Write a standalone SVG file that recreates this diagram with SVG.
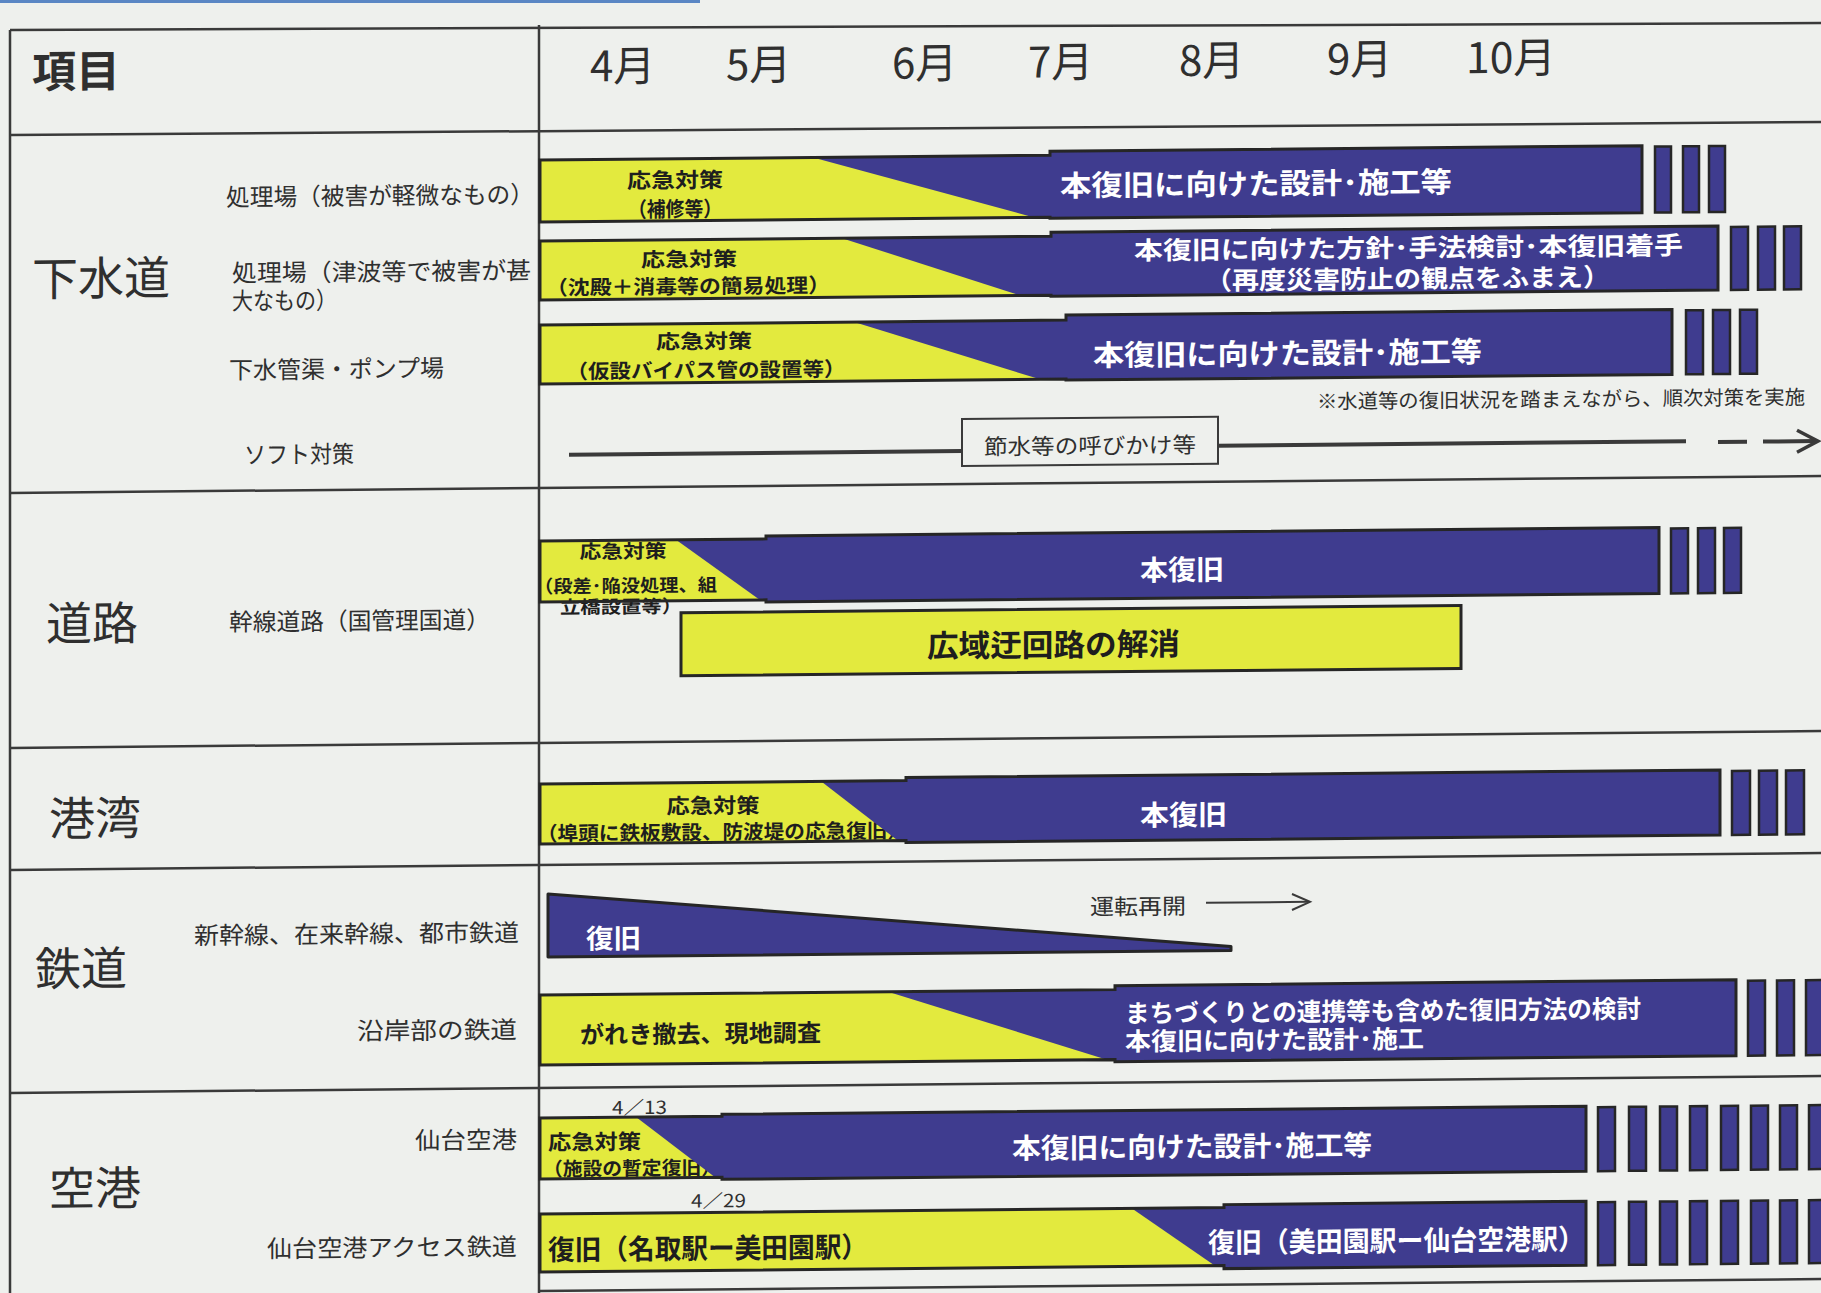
<svg xmlns="http://www.w3.org/2000/svg" width="1821" height="1293" viewBox="0 0 1821 1293">
<style>
.t{font-family:"Noto Sans CJK JP","Noto Sans CJK SC",sans-serif;fill:#2f2f2f}
.big{font-size:46px}
.lbl{font-size:24px}
.hd{font-size:42px}
.wt{fill:#ffffff;font-weight:700}
.dk{fill:#1e1e1e;font-weight:700}
.y{fill:#e3ea3e}
.b{fill:#3f3c8f}
.ol{fill:none;stroke:#262626;stroke-width:3}
.tk{fill:#3f3c8f;stroke:#262626;stroke-width:2.5}
.grid{stroke:#3a3a3a;stroke-width:2.5;fill:none}
.ln{stroke:#3a3a3a;fill:none}
</style>
<rect x="0" y="0" width="1821" height="1293" fill="#eef0ed"/>
<rect x="0" y="0" width="700" height="3" fill="#5a86c4"/>
<g transform="matrix(1,-0.0093,0,1,0,0)">
<g id="table" class="grid">
<line x1="10" y1="30" x2="1821" y2="40"/>
<line x1="10" y1="30" x2="10" y2="1300"/>
<line x1="539" y1="30" x2="539" y2="1300"/>
<line x1="10" y1="135" x2="1821" y2="139"/>
<line x1="10" y1="493" x2="1821" y2="493"/>
<line x1="10" y1="748" x2="1821" y2="748"/>
<line x1="10" y1="870" x2="1821" y2="870"/>
<line x1="10" y1="1093" x2="1821" y2="1093"/>
<line x1="539" y1="1296" x2="1821" y2="1296"/>
</g>
<g id="header">
<text class="t" x="32" y="88" font-size="44" font-weight="700">項目</text>
<text class="t hd" x="590" y="87">4月</text>
<text class="t hd" x="726" y="87">5月</text>
<text class="t hd" x="892" y="87">6月</text>
<text class="t hd" x="1028" y="87">7月</text>
<text class="t hd" x="1179" y="87">8月</text>
<text class="t hd" x="1327" y="87">9月</text>
<text class="t hd" x="1466" y="87" textLength="90" lengthAdjust="spacingAndGlyphs">10月</text>
</g>
<g id="labels">
<text class="t big" x="32" y="296">下水道</text>
<text class="t lbl" x="226" y="208" textLength="308" lengthAdjust="spacingAndGlyphs">処理場（被害が軽微なもの）</text>
<text class="t lbl" x="232" y="284" textLength="299" lengthAdjust="spacingAndGlyphs">処理場（津波等で被害が甚</text>
<text class="t lbl" x="232" y="312" textLength="105" lengthAdjust="spacingAndGlyphs">大なもの）</text>
<text class="t lbl" x="229" y="381" textLength="215" lengthAdjust="spacingAndGlyphs">下水管渠・ポンプ場</text>
<text class="t lbl" x="244" y="466" textLength="110" lengthAdjust="spacingAndGlyphs">ソフト対策</text>
<text class="t big" x="46" y="641">道路</text>
<text class="t lbl" x="229" y="633" textLength="261" lengthAdjust="spacingAndGlyphs">幹線道路（国管理国道）</text>
<text class="t big" x="49" y="836">港湾</text>
<text class="t big" x="35" y="986">鉄道</text>
<text class="t lbl" x="194" y="946" textLength="325" lengthAdjust="spacingAndGlyphs">新幹線、在来幹線、都市鉄道</text>
<text class="t lbl" x="357" y="1043" textLength="160" lengthAdjust="spacingAndGlyphs">沿岸部の鉄道</text>
<text class="t big" x="49" y="1206">空港</text>
<text class="t lbl" x="415" y="1153" textLength="102" lengthAdjust="spacingAndGlyphs">仙台空港</text>
<text class="t lbl" x="267" y="1260" textLength="250" lengthAdjust="spacingAndGlyphs">仙台空港アクセス鉄道</text>
</g>
<g id="sewer-bar1">
<rect class="y" x="540" y="165" width="510" height="62"/>
<text class="t dk" x="675" y="194" font-size="21" text-anchor="middle" textLength="96" lengthAdjust="spacingAndGlyphs">応急対策</text>
<text class="t dk" x="675" y="223" font-size="21" text-anchor="middle" textLength="94" lengthAdjust="spacingAndGlyphs">（補修等）</text>
<polygon class="b" points="813,165 1050,165 1050,227 1034,227"/>
<rect class="b" x="1050" y="161" width="592" height="67"/>
<path class="ol" d="M540,165 H1050 V161 H1642 V228 H1050 V227 H540 Z"/>
<text class="t wt" x="1060" y="206" font-size="29" textLength="392" lengthAdjust="spacingAndGlyphs">本復旧に向けた設計･施工等</text>
<rect class="tk" x="1655" y="162" width="16" height="66"/>
<rect class="tk" x="1683" y="162" width="16" height="66"/>
<rect class="tk" x="1709" y="162" width="16" height="66"/>
</g>
<g id="sewer-bar2">
<rect class="y" x="540" y="246" width="511" height="59"/>
<text class="t dk" x="689" y="273" font-size="20" text-anchor="middle" textLength="96" lengthAdjust="spacingAndGlyphs">応急対策</text>
<text class="t dk" x="688" y="300" font-size="20" text-anchor="middle" textLength="284" lengthAdjust="spacingAndGlyphs">（沈殿＋消毒等の簡易処理）</text>
<polygon class="b" points="842,246 1051,246 1051,305 1020,305"/>
<rect class="b" x="1051" y="242" width="667" height="64"/>
<path class="ol" d="M540,246 H1051 V242 H1718 V306 H1051 V305 H540 Z"/>
<text class="t wt" x="1134" y="270" font-size="25" textLength="549" lengthAdjust="spacingAndGlyphs">本復旧に向けた方針･手法検討･本復旧着手</text>
<text class="t wt" x="1205" y="301" font-size="25" textLength="405" lengthAdjust="spacingAndGlyphs">（再度災害防止の観点をふまえ）</text>
<rect class="tk" x="1731" y="243" width="17" height="63"/>
<rect class="tk" x="1758" y="243" width="17" height="63"/>
<rect class="tk" x="1784" y="243" width="17" height="63"/>
</g>
<g id="sewer-bar3">
<rect class="y" x="540" y="330" width="526" height="59"/>
<text class="t dk" x="704" y="355" font-size="20" text-anchor="middle" textLength="96" lengthAdjust="spacingAndGlyphs">応急対策</text>
<text class="t dk" x="706" y="384" font-size="20" text-anchor="middle" textLength="279" lengthAdjust="spacingAndGlyphs">（仮設バイパス管の設置等）</text>
<polygon class="b" points="854,330 1066,330 1066,389 1040,389"/>
<rect class="b" x="1066" y="325" width="606" height="65"/>
<path class="ol" d="M540,330 H1066 V325 H1672 V390 H1066 V389 H540 Z"/>
<text class="t wt" x="1093" y="376" font-size="29" textLength="389" lengthAdjust="spacingAndGlyphs">本復旧に向けた設計･施工等</text>
<rect class="tk" x="1686" y="326" width="17" height="64"/>
<rect class="tk" x="1713" y="326" width="17" height="64"/>
<rect class="tk" x="1740" y="326" width="17" height="64"/>
</g>
<g id="sewer-note">
<text class="t" x="1317" y="421" font-size="20" textLength="488" lengthAdjust="spacingAndGlyphs">※水道等の復旧状況を踏まえながら、順次対策を実施</text>
</g>
<g id="soft-box">
<rect x="962" y="428" width="256" height="47" fill="#eef0ed" stroke="#3a3a3a" stroke-width="2"/>
<text class="t" x="1090" y="464" font-size="22" text-anchor="middle" textLength="212" lengthAdjust="spacingAndGlyphs">節水等の呼びかけ等</text>
</g>
<g id="road-bar1">
<rect class="y" x="540" y="546" width="226" height="61"/>
<text class="t dk" x="623" y="564" font-size="19" text-anchor="middle" textLength="87" lengthAdjust="spacingAndGlyphs">応急対策</text>
<text class="t dk" x="534" y="598" font-size="18" textLength="183" lengthAdjust="spacingAndGlyphs">（段差･陥没処理、組</text>
<text class="t dk" x="560" y="619" font-size="18" textLength="122" lengthAdjust="spacingAndGlyphs">立橋設置等）</text>
<polygon class="b" points="676,546 766,546 766,607 760,607"/>
<rect class="b" x="766" y="543" width="893" height="66"/>
<path class="ol" d="M540,546 H766 V543 H1659 V609 H766 V607 H540 Z"/>
<text class="t wt" x="1140" y="591" font-size="28" textLength="84" lengthAdjust="spacingAndGlyphs">本復旧</text>
<rect class="tk" x="1671" y="544" width="17" height="65"/>
<rect class="tk" x="1698" y="544" width="17" height="65"/>
<rect class="tk" x="1724" y="544" width="17" height="65"/>
</g>
<g id="road-bar2">
<rect x="681" y="619" width="780" height="63" fill="#e3ea3e" stroke="#262626" stroke-width="3"/>
<text class="t dk" x="927" y="666" font-size="31" textLength="253" lengthAdjust="spacingAndGlyphs">広域迂回路の解消</text>
</g>
<g id="port-bar">
<rect class="y" x="540" y="789" width="366" height="60"/>
<text class="t dk" x="713" y="820" font-size="21" text-anchor="middle" textLength="93" lengthAdjust="spacingAndGlyphs">応急対策</text>
<text class="t dk" x="537" y="846" font-size="20" textLength="371" lengthAdjust="spacingAndGlyphs">（埠頭に鉄板敷設、防波堤の応急復旧）</text>
<polygon class="b" points="821,789 906,789 906,849 898,849"/>
<rect class="b" x="906" y="786" width="814" height="65"/>
<path class="ol" d="M540,789 H906 V786 H1720 V851 H906 V849 H540 Z"/>
<text class="t wt" x="1140" y="836" font-size="28" textLength="87" lengthAdjust="spacingAndGlyphs">本復旧</text>
<rect class="tk" x="1732" y="787" width="18" height="64"/>
<rect class="tk" x="1759" y="787" width="18" height="64"/>
<rect class="tk" x="1786" y="787" width="18" height="64"/>
</g>
<g id="rail-bar1">
<polygon points="548,899 1231,958 1231,962 548,962" fill="#3f3c8f" stroke="#262626" stroke-width="3" stroke-linejoin="round"/>
<text class="t wt" x="586" y="954" font-size="27" textLength="55" lengthAdjust="spacingAndGlyphs">復旧</text>
</g>
<g id="rail-restart">
<text class="t" x="1090" y="925" font-size="22" textLength="96" lengthAdjust="spacingAndGlyphs">運転再開</text>
</g>
<g id="rail-bar2">
<rect class="y" x="540" y="1000" width="575" height="70"/>
<text class="t dk" x="580" y="1049" font-size="24" textLength="241" lengthAdjust="spacingAndGlyphs">がれき撤去、現地調査</text>
<polygon class="b" points="888,1000 1115,1000 1115,1070 1107,1070"/>
<rect class="b" x="1115" y="996" width="621" height="76"/>
<path class="ol" d="M540,1000 H1115 V996 H1736 V1072 H1115 V1070 H540 Z"/>
<text class="t wt" x="1125" y="1033" font-size="25" textLength="516" lengthAdjust="spacingAndGlyphs">まちづくりとの連携等も含めた復旧方法の検討</text>
<text class="t wt" x="1125" y="1061" font-size="25" textLength="299" lengthAdjust="spacingAndGlyphs">本復旧に向けた設計･施工</text>
<rect class="tk" x="1748" y="997" width="17" height="75"/>
<rect class="tk" x="1777" y="997" width="17" height="75"/>
<rect class="tk" x="1806" y="997" width="17" height="75"/>
</g>
<g id="airport-bar1">
<text class="t" x="612" y="1120" font-size="18" textLength="55" lengthAdjust="spacingAndGlyphs">4／13</text>
<rect class="y" x="540" y="1123" width="182" height="61"/>
<text class="t dk" x="548" y="1155" font-size="21" textLength="93" lengthAdjust="spacingAndGlyphs">応急対策</text>
<text class="t dk" x="543" y="1181" font-size="19" textLength="178" lengthAdjust="spacingAndGlyphs">（施設の暫定復旧）</text>
<polygon class="b" points="636,1123 722,1123 722,1184 715,1184"/>
<rect class="b" x="722" y="1121" width="864" height="65"/>
<path class="ol" d="M540,1123 H722 V1121 H1586 V1186 H722 V1184 H540 Z"/>
<text class="t wt" x="1012" y="1168" font-size="28" textLength="360" lengthAdjust="spacingAndGlyphs">本復旧に向けた設計･施工等</text>
<rect class="tk" x="1598" y="1122" width="17" height="64"/>
<rect class="tk" x="1629" y="1122" width="17" height="64"/>
<rect class="tk" x="1660" y="1122" width="17" height="64"/>
<rect class="tk" x="1690" y="1122" width="17" height="64"/>
<rect class="tk" x="1721" y="1122" width="17" height="64"/>
<rect class="tk" x="1751" y="1122" width="17" height="64"/>
<rect class="tk" x="1780" y="1122" width="17" height="64"/>
<rect class="tk" x="1809" y="1122" width="17" height="64"/>
</g>
<g id="airport-bar2">
<text class="t" x="691" y="1214" font-size="18" textLength="55" lengthAdjust="spacingAndGlyphs">4／29</text>
<rect class="y" x="540" y="1219" width="684" height="58"/>
<text class="t dk" x="548" y="1265" font-size="28" textLength="320" lengthAdjust="spacingAndGlyphs">復旧（名取駅ー美田園駅）</text>
<polygon class="b" points="1132,1219 1224,1219 1224,1277 1215,1277"/>
<rect class="b" x="1224" y="1216" width="362" height="64"/>
<path class="ol" d="M540,1219 H1224 V1216 H1586 V1280 H1224 V1277 H540 Z"/>
<text class="t wt" x="1208" y="1264" font-size="28" textLength="377" lengthAdjust="spacingAndGlyphs">復旧（美田園駅ー仙台空港駅）</text>
<rect class="tk" x="1598" y="1217" width="17" height="63"/>
<rect class="tk" x="1629" y="1217" width="17" height="63"/>
<rect class="tk" x="1660" y="1217" width="17" height="63"/>
<rect class="tk" x="1690" y="1217" width="17" height="63"/>
<rect class="tk" x="1721" y="1217" width="17" height="63"/>
<rect class="tk" x="1751" y="1217" width="17" height="63"/>
<rect class="tk" x="1780" y="1217" width="17" height="63"/>
<rect class="tk" x="1809" y="1217" width="17" height="63"/>
</g>
<g id="connectors" class="ln">
<line x1="569" y1="460" x2="962" y2="460" stroke-width="4"/>
<line x1="1218" y1="457" x2="1686" y2="457" stroke-width="4"/>
<line x1="1718" y1="458" x2="1747" y2="458" stroke-width="4"/>
<line x1="1763" y1="458" x2="1816" y2="458" stroke-width="4"/>
<polyline points="1797,447 1818,458 1797,469" stroke-width="3.5"/>
<line x1="1206" y1="914" x2="1308" y2="914" stroke-width="2"/>
<polyline points="1292,906 1310,914 1292,922" stroke-width="2"/>
</g>
</g>
</svg>
